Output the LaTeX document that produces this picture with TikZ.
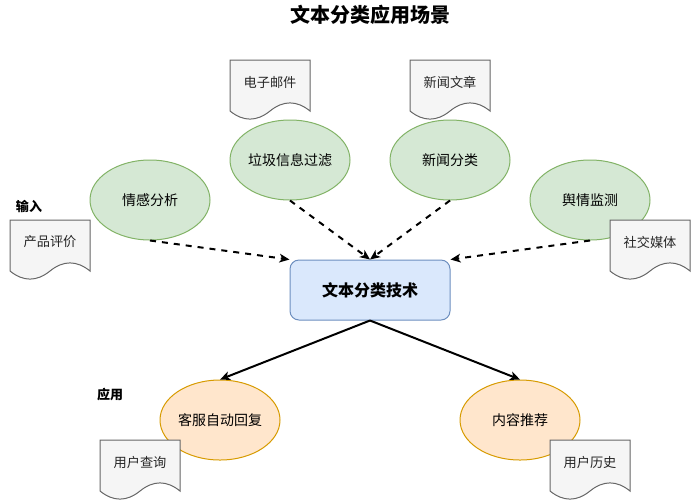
\documentclass[tikz,border=0pt]{standalone}
\usepackage{fontspec}
\setmainfont{Noto Sans CJK SC}
\usetikzlibrary{arrows.meta,shapes.geometric}
\definecolor{gfill}{HTML}{D5E8D4}
\definecolor{gline}{HTML}{82B366}
\definecolor{ofill}{HTML}{FFE6CC}
\definecolor{oline}{HTML}{D79B00}
\definecolor{bfill}{HTML}{DAE8FC}
\definecolor{bline}{HTML}{6C8EBF}
\definecolor{dfill}{HTML}{F5F5F5}
\definecolor{dline}{HTML}{666666}
\tikzset{
  greenell/.style={ellipse, draw=gline, fill=gfill, line width=0.75pt, minimum width=90pt, minimum height=60pt, inner sep=0pt, font=\fontsize{10.5pt}{12pt}\selectfont},
  orangeell/.style={ellipse, draw=oline, fill=ofill, line width=0.75pt, minimum width=90pt, minimum height=60pt, inner sep=0pt, font=\fontsize{10.5pt}{12pt}\selectfont},
  techbox/.style={rectangle, rounded corners=6.75pt, draw=bline, fill=bfill, line width=0.75pt, minimum width=120pt, minimum height=45pt, inner sep=0pt, font=\bfseries\fontsize{12pt}{14pt}\selectfont},
  docshape/.style={draw=dline, fill=dfill, line width=0.75pt},
  doctext/.style={inner sep=0pt, font=\fontsize{9.9pt}{11pt}\selectfont, text=black!85},
  tag/.style={inner sep=0pt, font=\bfseries\fontsize{9.75pt}{12pt}\selectfont},
  titletext/.style={inner sep=0pt, font=\bfseries\fontsize{15pt}{17pt}\selectfont},
  dasharrow/.style={line width=1.5pt, dash pattern=on 4.5pt off 4.5pt, -{Stealth[length=7.5pt,width=6.5pt,inset=2pt]}},
  solidarrow/.style={line width=1.5pt, -{Stealth[length=7.5pt,width=6.5pt,inset=2pt]}}
}
\newcommand{\mydocument}[4]{%
  \begin{scope}[shift={(#2,#3)}]
    \draw[docshape] (0,0) -- (80,0) -- (80,51)
      .. controls (66.67,40.2) and (53.33,40.2) .. (40,51)
      .. controls (26.67,61.8) and (13.33,61.8) .. (0,51) -- cycle;
    \node[doctext] (#1) at (40,22) {#4};
  \end{scope}}
\begin{document}
\begin{tikzpicture}[x=0.75pt,y=-0.75pt]
\useasboundingbox (0,0) rectangle (691,501);
\node[titletext] (title) at (370,15) {文本分类应用场景};
\node[techbox] (tech) at (370,290) {文本分类技术};
\node[greenell] (qg) at (150,200) {情感分析};
\node[greenell] (lj) at (290,160) {垃圾信息过滤};
\node[greenell] (xw) at (450,160) {新闻分类};
\node[greenell] (yq) at (590,200) {舆情监测};
\node[orangeell] (kf) at (220,420) {客服自动回复};
\node[orangeell] (nr) at (520,420) {内容推荐};
\mydocument{email}{230}{60}{电子邮件}
\mydocument{news}{410}{60}{新闻文章}
\mydocument{review}{10}{220}{产品评价}
\mydocument{social}{610}{220}{社交媒体}
\mydocument{query}{100}{440}{用户查询}
\mydocument{history}{550}{440}{用户历史}
\node[tag] (input) at (29,206) {输入};
\node[tag] (apply) at (110,395) {应用};
\draw[dasharrow] (qg.south) -- (tech.north west);
\draw[dasharrow] (lj.south) -- (tech.north);
\draw[dasharrow] (xw.south) -- (tech.north);
\draw[dasharrow] (yq.south) -- (tech.north east);
\draw[solidarrow] (tech.south) -- (kf.north);
\draw[solidarrow] (tech.south) -- (nr.north);
\end{tikzpicture}
\end{document}
